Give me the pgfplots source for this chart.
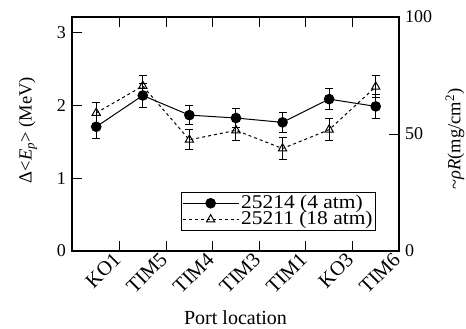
\documentclass[border=0pt]{standalone}
\usepackage{fontspec}
\setmainfont{Liberation Serif}
\newfontfamily\legfont[FakeStretch=1.1]{Liberation Serif}
\usepackage{pgfplots}
\pgfplotsset{compat=1.18}
\begin{document}
\fontsize{18}{20}\selectfont
\begin{tikzpicture}
\begin{axis}[name=ax, scale only axis, width=327pt, height=234pt,
  xmin=-0.52, xmax=6.5, ymin=0, ymax=3.22,
  axis line style={line width=1.2pt},
  xtick={0,...,6}, xticklabels={KO1,TIM5,TIM4,TIM3,TIM1,KO3,TIM6},
  major x tick style={draw=none},
  minor xtick={0.5,1.5,2.5,3.5,4.5,5.5},
  minor x tick style={black, line width=1pt},
  minor tick length=10pt,
  xticklabel style={font=\fontsize{20.5}{22}\selectfont, inner sep=0pt, xshift=21pt, yshift=-5pt, rotate=45, anchor=east},
  ytick={0,1,2,3}, ytick pos=left, xtick pos=both,
  tick align=inside, major tick length=10pt,
  major y tick style={black, line width=1pt},
  /pgf/number format/assume math mode=true,
  yticklabel style={font=\fontsize{18}{20}\selectfont},
  xlabel={Port location},
  xlabel style={font=\fontsize{20}{22}\selectfont, at={(axis description cs:0.5,0)}, anchor=center, yshift=-67pt},
  ylabel={Δ<\textit{E}\textsubscript{\textit{p}}> (MeV)},
  ylabel style={font=\fontsize{18.5}{20}\selectfont, at={(axis description cs:0,0.517)}, anchor=center, yshift=44pt},
  legend style={at={(0.93,0.085)}, anchor=south east, draw=black, line width=1pt,
    font=\legfont\fontsize{19.5}{21}\selectfont, inner sep=1pt, row sep=-4pt},
  legend cell align=left,
  legend image code/.code={\draw[mark repeat=2,mark phase=2,#1] plot coordinates {(0pt,0pt) (28pt,0pt) (56pt,0pt)};},
]
\addplot[black, line width=1pt, mark=*, mark size=4.8pt,
  error bars/.cd, y dir=both, y explicit,
  error bar style={line width=1pt}, error mark options={rotate=90, mark size=4pt, line width=1pt}]
  coordinates {
  (0,1.71) +- (0,0.16)
  (1,2.14) +- (0,0.16)
  (2,1.87) +- (0,0.13)
  (3,1.83) +- (0,0.13)
  (4,1.77) +- (0,0.14)
  (5,2.09) +- (0,0.14)
  (6,1.99) +- (0,0.16)
  };
\addlegendentry{25214 (4 atm)}
\addplot[black, line width=1pt, dashed, mark=triangle, mark size=4.8pt, mark options={solid, fill=white, line width=1pt},
  error bars/.cd, y dir=both, y explicit,
  error bar style={line width=1pt, solid}, error mark options={rotate=90, mark size=4pt, line width=1pt, solid}]
  coordinates {
  (0,1.90) +- (0,0.15)
  (1,2.27) +- (0,0.15)
  (2,1.53) +- (0,0.14)
  (3,1.66) +- (0,0.14)
  (4,1.41) +- (0,0.15)
  (5,1.67) +- (0,0.15)
  (6,2.26) +- (0,0.15)
  };
\addlegendentry{25211 (18 atm)}
\end{axis}
\begin{axis}[scale only axis, width=327pt, height=234pt,
  xmin=-0.52, xmax=6.5, ymin=0, ymax=100,
  axis y line*=right, axis x line=none,
  axis line style={line width=1.2pt},
  ytick={0,50,100}, tick align=inside, major tick length=10pt,
  major y tick style={black, line width=1pt},
  /pgf/number format/assume math mode=true,
  yticklabel style={font=\fontsize{18}{20}\selectfont},
  ylabel={\textasciitilde\textit{ρR}(mg/cm\textsuperscript{2})},
  ylabel style={font=\fontsize{18.5}{20}\selectfont, at={(axis description cs:1,0.479)}, anchor=center, yshift=-56pt},
]
\end{axis}
\pgfresetboundingbox
\path ([shift={(-72pt,-77pt)}]ax.south west) rectangle ([shift={(67pt,17pt)}]ax.north east);
\end{tikzpicture}
\end{document}
